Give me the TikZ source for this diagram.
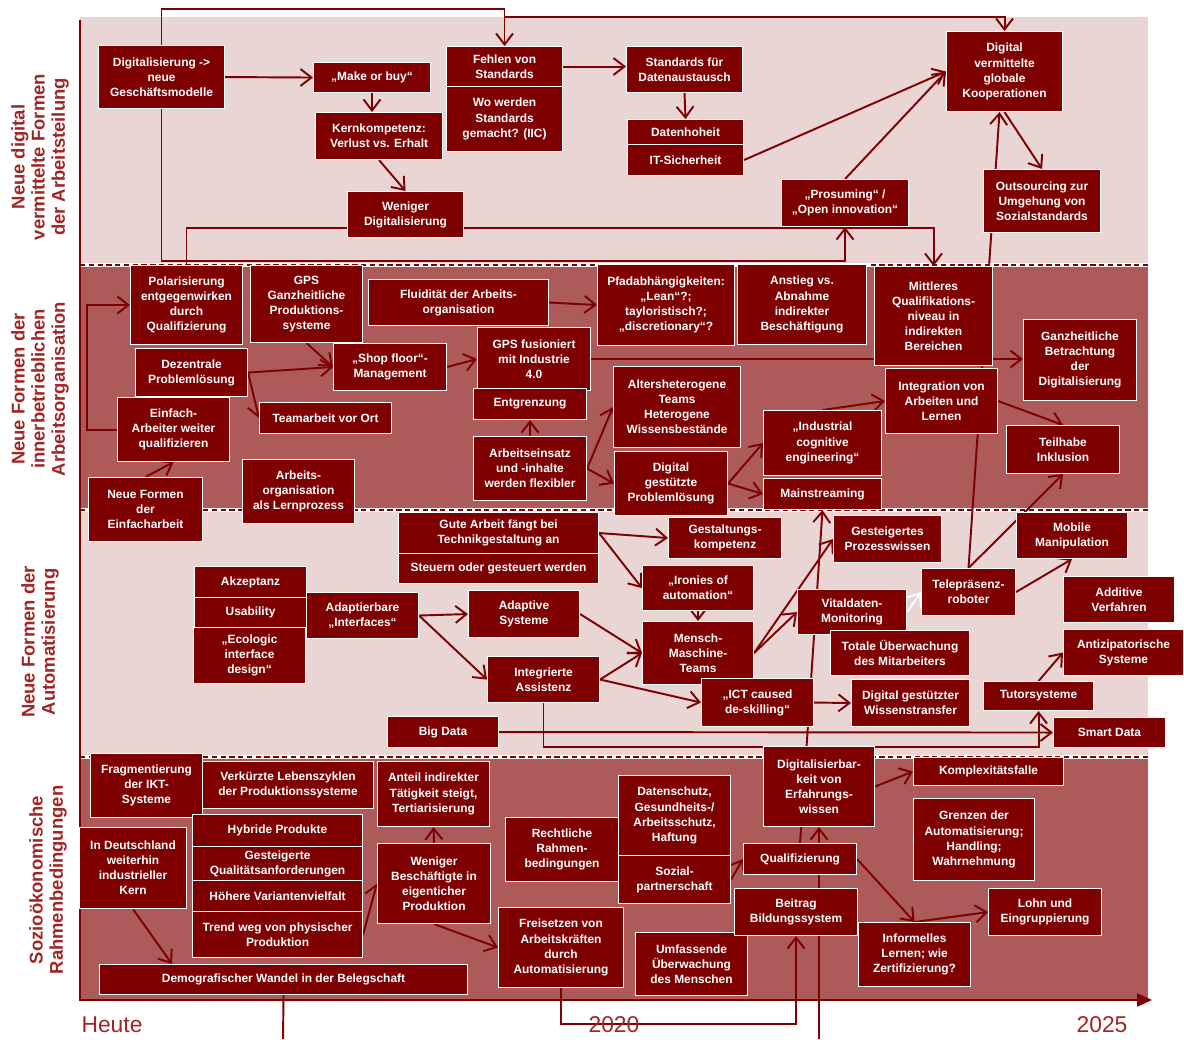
\documentclass[tikz,border=0pt]{standalone}
\usepackage{fontspec}
\setmainfont{Liberation Sans}
\usepackage{xcolor}
\usepackage{tikz}
\usetikzlibrary{arrows.meta, calc}

\definecolor{boxred}{RGB}{127,0,0}
\definecolor{labred}{RGB}{160,38,38}
\definecolor{lightband}{RGB}{234,213,213}
\definecolor{darkband}{RGB}{172,90,90}

\pgfdeclarelayer{back}
\pgfdeclarelayer{edges}
\pgfsetlayers{back,edges,main}

\begin{document}
\begin{tikzpicture}[x=0.02cm, y=-0.02cm,
	wd/.style={minimum width=#1*0.02cm},
	ht/.style={minimum height=#1*0.02cm}]
	\tikzstyle{block} = [rectangle, draw=white, line width=0.6pt, fill=boxred,
	text=white, align=center, inner sep=1pt, anchor=north west,
	font=\fontsize{6.8}{8.6}\selectfont\bfseries]
	\tikzstyle{line} = [draw=boxred, -{Straight Barb[length=2.2mm, width=3.4mm]}, line width=1.1pt]
	\tikzstyle{link} = [draw=boxred, line width=1.1pt]
	\tikzstyle{rowlabel} = [rotate=90, align=center, text=labred,
	font=\fontsize{10.5}{11.5}\selectfont\bfseries]
	\tikzstyle{year} = [text=labred, font=\fontsize{13}{13}\selectfont]
	\useasboundingbox (0,0) rectangle (1184,1039);

	% Bands and axes
	\begin{pgfonlayer}{back}
	\fill[lightband] (80,17) rectangle (1148,265);
	\fill[darkband] (80,265) rectangle (1148,510);
	\fill[lightband] (80,510) rectangle (1148,757);
	\fill[darkband] (80,757) rectangle (1148,1000);
	\foreach \y in {265,510,757} {
		\draw[white, line width=2pt] (80,\y) -- (1148,\y);
		\draw[boxred, line width=0.9pt, dash pattern=on 3pt off 2pt] (80,\y) -- (1148,\y);
	}
	\draw[boxred, line width=1.2pt, -{Triangle[length=3mm, width=2.6mm]}] (80,20) -- (80,1000) -- (1152,1000);
	\end{pgfonlayer}

	% Row labels and time axis
	\node[rowlabel] (row1) at (40,157) {Neue digital\\vermittelte Formen\\der Arbeitsteilung};
	\node[rowlabel] (row2) at (40,389) {Neue Formen der\\innerbetrieblichen\\Arbeitsorganisation};
	\node[rowlabel] (row3) at (40,642) {Neue Formen der\\Automatisierung};
	\node[rowlabel] (row4) at (48,880) {Sozioökonomische\\Rahmenbedingungen};
	\node[year] (heute) at (112,1025) {Heute};
	\node[year] (y2020) at (614,1025) {2020};
	\node[year] (y2025) at (1102,1025) {2025};

	% Place nodes: Arbeitsteilung
	\node[block, wd=126, ht=63] (dig) at (98,45) {Digitalisierung ->\\neue\\Geschäftsmodelle};
	\node[block, wd=117, ht=30] (make) at (313,62) {„Make or buy“};
	\node[block, wd=127, ht=47] (kern) at (315,112) {Kernkompetenz:\\Verlust vs. Erhalt};
	\node[block, wd=116, ht=46] (weniger) at (347,191) {Weniger\\Digitalisierung};
	\node[block, wd=116, ht=40] (fehlen) at (446,46) {Fehlen von\\Standards};
	\node[block, wd=116, ht=65] (wo) at (446,86) {Wo werden\\Standards\\gemacht? (IIC)};
	\node[block, wd=116, ht=46] (stdaus) at (626,46) {Standards für\\Datenaustausch};
	\node[block, wd=116, ht=25] (hoheit) at (627,119) {Datenhoheit};
	\node[block, wd=116, ht=31] (itsich) at (627,144) {IT-Sicherheit};
	\node[block, wd=116, ht=80] (global) at (946,31) {Digital\\vermittelte\\globale\\Kooperationen};
	\node[block, wd=127, ht=47] (prosum) at (781,179) {„Prosuming“ /\\„Open innovation“};
	\node[block, wd=117, ht=63] (outsrc) at (983,169) {Outsourcing zur\\Umgehung von\\Sozialstandards};

	% Place nodes: Arbeitsorganisation
	\node[block, wd=112, ht=79] (polar) at (130,265) {Polarisierung\\entgegenwirken\\durch\\Qualifizierung};
	\node[block, wd=112, ht=77] (gps) at (250,265) {GPS\\Ganzheitliche\\Produktions-\\systeme};
	\node[block, wd=180, ht=46] (fluid) at (368,279) {Fluidität der Arbeits-\\organisation};
	\node[block, wd=112, ht=48] (dezen) at (135,348) {Dezentrale\\Problemlösung};
	\node[block, wd=113, ht=47] (shop) at (333,343) {„Shop floor“-\\Management};
	\node[block, wd=132, ht=31] (team) at (259,402) {Teamarbeit vor Ort};
	\node[block, wd=112, ht=64] (einfach) at (117,397) {Einfach-\\Arbeiter weiter\\qualifizieren};
	\node[block, wd=114, ht=64] (neueF) at (88,477) {Neue Formen\\der\\Einfacharbeit};
	\node[block, wd=112, ht=64] (lernproz) at (242,459) {Arbeits-\\organisation\\als Lernprozess};
	\node[block, wd=137, ht=81] (pfad) at (597,264) {Pfadabhängigkeiten:\\„Lean“?;\\tayloristisch?;\\„discretionary“?};
	\node[block, wd=129, ht=80] (anstieg) at (737,264) {Anstieg vs.\\Abnahme\\indirekter\\Beschäftigung};
	\node[block, wd=118, ht=99] (mittl) at (874,266) {Mittleres\\Qualifikations-\\niveau in\\indirekten\\Bereichen};
	\node[block, wd=113, ht=81] (ganzh) at (1023,319) {Ganzheitliche\\Betrachtung\\der\\Digitalisierung};
	\node[block, wd=113, ht=63] (gpsfus) at (477,327) {GPS fusioniert\\mit Industrie\\4.0};
	\node[block, wd=113, ht=31] (entgr) at (473,388) {Entgrenzung};
	\node[block, wd=113, ht=64] (flexib) at (473,436) {Arbeitseinsatz\\und -inhalte\\werden flexibler};
	\node[block, wd=127, ht=81] (alters) at (613,366) {Altersheterogene\\Teams\\Heterogene\\Wissensbestände};
	\node[block, wd=113, ht=64] (digprob) at (614,451) {Digital\\gestützte\\Problemlösung};
	\node[block, wd=112, ht=65] (integr) at (885,368) {Integration von\\Arbeiten und\\Lernen};
	\node[block, wd=118, ht=65] (indcog) at (763,410) {„Industrial\\cognitive\\engineering“};
	\node[block, wd=118, ht=31] (mainstr) at (763,478) {Mainstreaming};
	\node[block, wd=113, ht=48] (teilhabe) at (1006,425) {Teilhabe\\Inklusion};

	% Place nodes: Automatisierung
	\node[block, wd=200, ht=41] (gute) at (398,512) {Gute Arbeit fängt bei\\Technikgestaltung an};
	\node[block, wd=200, ht=30] (steuern) at (398,553) {Steuern oder gesteuert werden};
	\node[block, wd=113, ht=41] (gestalt) at (668,517) {Gestaltungs-\\kompetenz};
	\node[block, wd=111, ht=45] (ironies) at (642,565) {„Ironies of\\automation“};
	\node[block, wd=112, ht=31] (akzept) at (194,566) {Akzeptanz};
	\node[block, wd=112, ht=30] (usab) at (194,597) {Usability};
	\node[block, wd=112, ht=56] (ecol) at (193,627) {„Ecologic\\interface\\design“};
	\node[block, wd=112, ht=46] (adapt) at (306,592) {Adaptierbare\\„Interfaces“};
	\node[block, wd=111, ht=47] (adsys) at (468,590) {Adaptive\\Systeme};
	\node[block, wd=112, ht=46] (integass) at (487,656) {Integrierte\\Assistenz};
	\node[block, wd=111, ht=63] (mensch) at (642,621) {Mensch-\\Maschine-\\Teams};
	\node[block, wd=112, ht=48] (ict) at (701,678) {„ICT caused\\de-skilling“};
	\node[block, wd=111, ht=31] (bigdata) at (387,716) {Big Data};
	\node[block, wd=108, ht=47] (gestproz) at (833,515) {Gesteigertes\\Prozesswissen};
	\node[block, wd=111, ht=46] (mobile) at (1016,512) {Mobile\\Manipulation};
	\node[block, wd=94, ht=47] (telep) at (921,568) {Telepräsenz-\\roboter};
	\node[block, wd=111, ht=46] (additiv) at (1063,576) {Additive\\Verfahren};
	\node[block, wd=109, ht=45] (vital) at (797,589) {Vitaldaten-\\Monitoring};
	\node[block, wd=139, ht=45] (totale) at (830,630) {Totale Überwachung\\des Mitarbeiters};
	\node[block, wd=120, ht=46] (antiz) at (1063,629) {Antizipatorische\\Systeme};
	\node[block, wd=118, ht=47] (digwiss) at (851,679) {Digital gestützter\\Wissenstransfer};
	\node[block, wd=110, ht=29] (tutor) at (983,681) {Tutorsysteme};
	\node[block, wd=112, ht=30] (smart) at (1053,717) {Smart Data};

	% Place nodes: Rahmenbedingungen
	\node[block, wd=112, ht=64] (fragm) at (90,753) {Fragmentierung\\der IKT-\\Systeme};
	\node[block, wd=171, ht=47] (verk) at (202,761) {Verkürzte Lebenszyklen\\der Produktionssysteme};
	\node[block, wd=112, ht=65] (anteil) at (377,761) {Anteil indirekter\\Tätigkeit steigt,\\Tertiarisierung};
	\node[block, wd=107, ht=81] (indeut) at (79,827) {In Deutschland\\weiterhin\\industrieller\\Kern};
	\node[block, wd=170, ht=32] (hybrid) at (192,814) {Hybride Produkte};
	\node[block, wd=170, ht=34] (gestq) at (192,846) {Gesteigerte\\Qualitätsanforderungen};
	\node[block, wd=170, ht=31] (hoeher) at (192,880) {Höhere Variantenvielfalt};
	\node[block, wd=170, ht=46] (trend) at (192,911) {Trend weg von physischer\\Produktion};
	\node[block, wd=368, ht=30] (demog) at (99,964) {Demografischer Wandel in der Belegschaft};
	\node[block, wd=113, ht=80] (wenigerB) at (377,843) {Weniger\\Beschäftigte in\\eigenticher\\Produktion};
	\node[block, wd=113, ht=64] (recht) at (505,817) {Rechtliche\\Rahmen-\\bedingungen};
	\node[block, wd=112, ht=80] (daten) at (618,775) {Datenschutz,\\Gesundheits-/\\Arbeitsschutz,\\Haftung};
	\node[block, wd=112, ht=48] (sozial) at (618,855) {Sozial-\\partnerschaft};
	\node[block, wd=125, ht=80] (freis) at (498,907) {Freisetzen von\\Arbeitskräften\\durch\\Automatisierung};
	\node[block, wd=112, ht=63] (umfass) at (635,932) {Umfassende\\Überwachung\\des Menschen};
	\node[block, wd=111, ht=80] (digbar) at (763,746) {Digitalisierbar-\\keit von\\Erfahrungs-\\wissen};
	\node[block, wd=150, ht=28] (komplex) at (913,757) {Komplexitätsfalle};
	\node[block, wd=113, ht=31] (qualif) at (743,843) {Qualifizierung};
	\node[block, wd=123, ht=47] (beitrag) at (734,888) {Beitrag\\Bildungssystem};
	\node[block, wd=121, ht=82] (grenzen) at (913,798) {Grenzen der\\Automatisierung;\\Handling;\\Wahrnehmung};
	\node[block, wd=112, ht=64] (inform) at (858,922) {Informelles\\Lernen; wie\\Zertifizierung?};
	\node[block, wd=113, ht=47] (lohn) at (988,888) {Lohn und\\Eingruppierung};

	\coordinate (j1) at (fehlen.north |- 0,17);
	\coordinate (b1) at (283,1039);
	\coordinate (b2) at (819,1039);

	% Draw edges
	\begin{pgfonlayer}{edges}
	\path[line] (dig.north) -- ++(0,-36) -| (fehlen.north);
	\path[line] (j1) -| (global.north);
	\path[line] (dig.south) -- ++(0,152) -| (prosum.south);
	\path[line] (dig.east) -- (make.west);
	\path[line] (make.south) -- (make.south |- kern.north);
	\path[line] (kern.south) -- (weniger.north);
	\path[line] (fehlen.east) -- (fehlen.east -| stdaus.west);
	\path[line] (stdaus.south) -- (hoheit.north);
	\path[line] (itsich.east) -- (global.west);
	\path[line] (prosum.north) -- (global.west);
	\path[line] (global.south) -- (outsrc.north);
	\path[line] (telep.north) -- ([xshift=-0.1cm]global.south);
	\path[line] (telep.north) -- (teilhabe.south);
	\path[line] (telep.east) -- (mobile.south);
	\path[line, draw=white] (vital.east) -- (telep.west);
	\path[line] (polar.north) -- ++(0,-37) -| (mittl.north);

	\path[line] (einfach.west) -- ++(-30,0) |- (polar.west);
	\path[line] (neueF.north) -- (einfach.south);
	\path[line] (gps.south) -- (shop.west);
	\path[line] (dezen.east) -- (shop.west);
	\path[line] (dezen.east) -- (team.west);
	\path[line] (shop.east) -- (gpsfus.west);
	\path[line] (fluid.east) -- (pfad.west);
	\path[line] (gpsfus.east) -- (gpsfus.east -| ganzh.west);
	\path[line] (flexib.north) -- (entgr.south);
	\path[line] (flexib.east) -- (alters.west);
	\path[line] (flexib.east) -- (digprob.west);
	\path[line] (digprob.east) -- (indcog.west);
	\path[line] (digprob.east) -- (mainstr.west);
	\path[line] (indcog.north) -- (integr.west);
	\path[line] (integr.east) -- (teilhabe.north);

	\path[line] (gute.east) -- (gestalt.west);
	\path[line] (gute.east) -- (ironies.west);
	\path[line] (ironies.south) -- (mensch.north);
	\path[line] (adapt.east) -- (adsys.west);
	\path[line] (adapt.east) -- (integass.west);
	\path[line] (adsys.east) -- (mensch.west);
	\path[line] (integass.east) -- (mensch.west);
	\path[line] (integass.east) -- (ict.west);
	\path[line] (integass.south) -- ++(0,44) -| (tutor.south);
	\path[line] (bigdata.east) -- (smart.west);
	\path[line] (ict.east) -- (digwiss.west);
	\path[line] (mensch.east) -- (gestproz.west);
	\path[line] (mensch.east) -- (vital.west);
	\path[line] (qualif.north) -- (mainstr.south);
	\path[line] (tutor.north) -- (antiz.west);

	\path[line] (indeut.south) -- ($(demog.north west)+(73,0)$);
	\path[line] (trend.east) -- (wenigerB.west);
	\path[line] (wenigerB.north) -- (anteil.south);
	\path[line] (wenigerB.south) -- (freis.west);
	\path[line] (sozial.east) -- (qualif.west);
	\path[line] (digbar.east) -- (komplex.west);
	\path[line] (qualif.east) -- (inform.north);
	\path[line] (inform.north) -- (lohn.west);
	\path[line] (freis.south) -- ++(0,36) -| (beitrag.south);
	\path[line] (b2) -- (digbar.south);
	\path[link] (demog.south) -- (b1);
	\end{pgfonlayer}
\end{tikzpicture}
\end{document}
